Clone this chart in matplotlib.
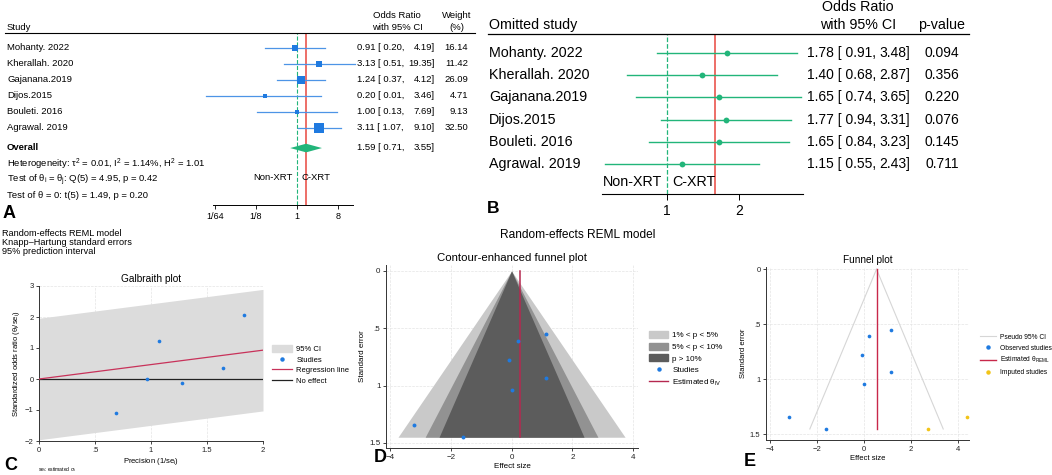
import matplotlib
matplotlib.use("Agg")
import matplotlib.pyplot as plt
from matplotlib.lines import Line2D
from matplotlib.patches import Patch
import numpy as np

plt.rcParams['font.family'] = ['Liberation Sans', 'DejaVu Sans']
plt.rcParams['mathtext.fontset'] = 'custom'
plt.rcParams['mathtext.rm'] = 'Liberation Sans'
plt.rcParams['mathtext.it'] = 'Liberation Sans:italic'
plt.rcParams['mathtext.bf'] = 'Liberation Sans:bold'

# ---------------- data ----------------
studies = ["Mohanty. 2022", "Kherallah. 2020", "Gajanana.2019",
           "Dijos.2015", "Bouleti. 2016", "Agrawal. 2019"]
or_est = [0.91, 3.13, 1.24, 0.20, 1.00, 3.11]
or_lo = [0.20, 0.51, 0.37, 0.01, 0.13, 1.07]
or_hi = [4.19, 19.35, 4.12, 3.46, 7.69, 9.10]
weights = [16.14, 11.42, 26.09, 4.71, 9.13, 32.50]
overall = (1.59, 0.71, 3.55)

loo_est = [1.78, 1.40, 1.65, 1.77, 1.65, 1.15]
loo_lo = [0.91, 0.68, 0.74, 0.94, 0.84, 0.55]
loo_hi = [3.48, 2.87, 3.65, 3.31, 3.23, 2.43]
loo_p = ["0.094", "0.356", "0.220", "0.076", "0.145", "0.711"]

# galbraith
gal_prec = [0.69, 0.96, 1.07, 1.28, 1.64, 1.83]
gal_z = [-1.10, 0.00, 1.22, -0.12, 0.35, 2.07]
gal_slope = 0.465

# funnel (log odds ratio, standard error)
fun_eff = [1.14, 0.22, -0.09, 1.14, 0.00, -3.22, -1.61]
fun_se = [0.55, 0.61, 0.78, 0.93, 1.04, 1.34, 1.45]
theta_iv = 0.27
theta_reml = 0.53
imp_eff = [2.73, 4.37]
imp_se = [1.45, 1.34]
se_max = 1.45

W, H = 1052, 475
fig = plt.figure(figsize=(W / 100, H / 100), dpi=100)


def rect(x0, y0, x1, y1):
    return [x0 / W, 1 - y1 / H, (x1 - x0) / W, (y1 - y0) / H]


def ft(x, y, s, **kw):
    kw.setdefault('va', 'center')
    fig.text(x / W, 1 - y / H, s, **kw)


BLUE = '#1f7ae0'
GREEN = '#22b57a'
RED = '#e8463f'

# ---------------- panel A: forest plot ----------------
axA = fig.add_axes(rect(213, 33, 353, 205))
axA.set_xscale('log', base=2)
axA.set_xlim(2 ** -6.146, 2 ** 4.10)
axA.set_ylim(9.81, -0.94)
for s in ['top', 'right', 'left']:
    axA.spines[s].set_visible(False)
axA.spines['bottom'].set_linewidth(0.7)
axA.set_yticks([])
axA.set_xticks([1 / 64, 1 / 8, 1, 8])
axA.set_xticklabels(['1/64', '1/8', '1', '8'], fontsize=6.5)
axA.xaxis.set_minor_locator(matplotlib.ticker.NullLocator())
axA.tick_params(axis='x', length=3, width=0.6, pad=2)
axA.axvline(1, color=GREEN, ls='--', lw=0.8, zorder=1)
axA.axvline(overall[0], color=RED, lw=1.1, zorder=1)
for i in range(len(studies)):
    axA.plot([or_lo[i], or_hi[i]], [i, i], color='#4d94e6', lw=0.9, clip_on=False, zorder=2)
    axA.plot(or_est[i], i, 's', color=BLUE, ms=1.14 * np.sqrt(weights[i]), mew=0, zorder=3)
oy = 6.25
axA.fill([overall[1], overall[0], overall[2], overall[0]],
         [oy, oy - 0.27, oy, oy + 0.27], color=GREEN, lw=0, zorder=3)

fa = 6.8
ft(7, 27, "Study", fontsize=fa)
ft(397, 15, "Odds Ratio", fontsize=fa, ha='center')
ft(397, 27, "with 95% CI", fontsize=fa, ha='center')
ft(457, 15, "Weight", fontsize=fa, ha='center')
ft(457, 27, "(%)", fontsize=fa, ha='center')
fig.add_artist(Line2D([5 / W, 475 / W], [1 - 33 / H, 1 - 33 / H], color='k', lw=0.8))
for i in range(len(studies)):
    y = 48 + 16 * i
    ft(7, y, studies[i], fontsize=fa)
    ft(357, y, f"{or_est[i]:.2f} [ {or_lo[i]:.2f},", fontsize=fa)
    ft(435, y, f"{or_hi[i]:.2f}]", fontsize=fa, ha='right')
    ft(468, y, f"{weights[i]:.2f}", fontsize=fa, ha='right')
ft(7, 148, "Overall", fontsize=fa, fontweight='bold')
ft(357, 148, f"{overall[0]:.2f} [ {overall[1]:.2f},", fontsize=fa)
ft(435, 148, f"{overall[2]:.2f}]", fontsize=fa, ha='right')
ft(7, 164, r"Heterogeneity: τ$^2$ = 0.01, I$^2$ = 1.14%, H$^2$ = 1.01", fontsize=fa)
ft(7, 180, r"Test of θ$_\mathrm{i}$ = θ$_\mathrm{j}$: Q(5) = 4.95, p = 0.42", fontsize=fa)
ft(7, 196, "Test of θ = 0: t(5) = 1.49, p = 0.20", fontsize=fa)
ft(293, 178, "Non-XRT", fontsize=fa, ha='right')
ft(302, 178, "C-XRT", fontsize=fa)
ft(3, 213, "A", fontsize=13, fontweight='bold')

# ---------------- panel B: leave-one-out ----------------
axB = fig.add_axes(rect(602, 34, 803, 194))
axB.set_xscale('log', base=2)
axB.set_xlim(2 ** -0.903, 2 ** 1.889)
axB.set_ylim(6.35, -0.856)
for s in ['top', 'right', 'left']:
    axB.spines[s].set_visible(False)
axB.spines['bottom'].set_linewidth(0.8)
axB.set_yticks([])
axB.set_xticks([1, 2])
axB.set_xticklabels(['1', '2'], fontsize=10)
axB.xaxis.set_minor_locator(matplotlib.ticker.NullLocator())
axB.tick_params(axis='x', length=4, width=0.7, pad=3)
axB.axvline(1, color=GREEN, ls='--', lw=0.9, zorder=1)
axB.axvline(overall[0], color=RED, lw=1.1, zorder=1)
for i in range(len(studies)):
    axB.plot([loo_lo[i], loo_hi[i]], [i, i], color=GREEN, lw=1.0, clip_on=False, zorder=2)
    axB.plot(loo_est[i], i, 'o', color=GREEN, ms=4.2, mew=0, zorder=3)

fb = 10.3
fbn = 10
ft(489, 25, "Omitted study", fontsize=fb)
ft(858, 7, "Odds Ratio", fontsize=fb, ha='center')
ft(858, 25, "with 95% CI", fontsize=fb, ha='center')
ft(942, 25, "p-value", fontsize=fb, ha='center')
fig.add_artist(Line2D([488 / W, 969 / W], [1 - 34 / H, 1 - 34 / H], color='k', lw=0.9))
for i in range(len(studies)):
    y = 53 + 22.2 * i
    ft(489, y, studies[i], fontsize=fb)
    ft(807, y, f"{loo_est[i]:.2f} [ {loo_lo[i]:.2f},", fontsize=fbn)
    ft(910, y, f"{loo_hi[i]:.2f}]", fontsize=fbn, ha='right')
    ft(942, y, loo_p[i], fontsize=fbn, ha='center')
ft(662, 182, "Non-XRT", fontsize=fb, ha='right')
ft(672, 182, "C-XRT", fontsize=fb)
ft(487, 208, "B", fontsize=12.5, fontweight='bold')


def stata_axes(ax, fs):
    for s in ['top', 'right']:
        ax.spines[s].set_visible(False)
    for s in ['left', 'bottom']:
        ax.spines[s].set_linewidth(0.7)
        ax.spines[s].set_color('#333333')
    ax.tick_params(length=2.5, width=0.6, labelsize=fs, pad=1.5, colors='#222222')
    ax.grid(True, color='#e4e4e4', ls='--', lw=0.5)
    ax.set_axisbelow(True)


def fmt(v):
    s = f"{v:g}"
    return s[1:] if s.startswith('0.') else s


# ---------------- panel C: galbraith ----------------
ft(2, 233, "Random-effects REML model", fontsize=6.6)
ft(2, 243, "Knapp–Hartung standard errors", fontsize=6.6)
ft(2, 252, "95% prediction interval", fontsize=6.6)

axC = fig.add_axes(rect(39, 286, 263, 441))
stata_axes(axC, 5.5)
axC.set_xlim(0, 2)
axC.set_ylim(-2, 3)
xs = np.array([0, 2])
axC.fill_between(xs, gal_slope * xs - 1.96, gal_slope * xs + 1.96, color='#dcdcdc', lw=0, zorder=1)
axC.plot(xs, gal_slope * xs, color='#c8325a', lw=0.9, zorder=3)
axC.axhline(0, color='#222222', lw=0.9, zorder=2)
axC.scatter(gal_prec, gal_z, s=7, color=BLUE, zorder=4, lw=0)
axC.set_xticks([0, 0.5, 1, 1.5, 2])
axC.set_xticklabels([fmt(v) for v in [0, 0.5, 1, 1.5, 2]])
axC.set_yticks([-2, -1, 0, 1, 2, 3])
axC.set_title("Galbraith plot", fontsize=7.3, pad=3)
axC.set_xlabel(r"Precision (1/se$_\mathrm{i}$)", fontsize=5.5, labelpad=2)
axC.set_ylabel(r"Standardized odds ratio (θ$_\mathrm{i}$/se$_\mathrm{i}$)", fontsize=5.5, labelpad=2)
hC = [Patch(color='#dcdcdc'),
      Line2D([], [], ls='', marker='o', ms=2.2, color=BLUE),
      Line2D([], [], color='#c8325a', lw=0.9),
      Line2D([], [], color='#222222', lw=0.9)]
axC.legend(hC, ["95% CI", "Studies", "Regression line", "No effect"],
           loc='upper left', bbox_to_anchor=(268 / W, 1 - 341 / H), bbox_transform=fig.transFigure,
           frameon=False, fontsize=5.5, borderpad=0, handlelength=2.6, handleheight=1.0,
           handletextpad=0.6, labelspacing=0.35)
ft(4, 465, "C", fontsize=13, fontweight='bold')
ft(38, 470, r"se$_\mathrm{i}$: estimated σ$_\mathrm{i}$", fontsize=3.6)

# ---------------- panel D: contour-enhanced funnel ----------------
ft(578, 235, "Random-effects REML model", fontsize=8.6, ha='center')
axD = fig.add_axes(rect(386, 265, 638, 448))
stata_axes(axD, 5.8)
axD.set_xlim(-4.13, 4.16)
axD.set_ylim(1.544, -0.052)
se_line = np.array([0, se_max])
for z, c in [(2.576, '#c9c9c9'), (1.96, '#929292'), (1.645, '#5c5c5c')]:
    axD.fill_betweenx(se_line, -z * se_line, z * se_line, color=c, lw=0, zorder=1)
axD.plot([theta_iv, theta_iv], [0, se_max], color='#b5284f', lw=1.1, zorder=3)
axD.scatter(fun_eff, fun_se, s=8, color=BLUE, zorder=4, lw=0)
axD.set_xticks([-4, -2, 0, 2, 4])
axD.set_yticks([0, 0.5, 1, 1.5])
axD.set_yticklabels([fmt(v) for v in [0, 0.5, 1, 1.5]])
axD.set_title("Contour-enhanced funnel plot", fontsize=8.2, pad=3)
axD.set_xlabel("Effect size", fontsize=5.8, labelpad=2)
axD.set_ylabel("Standard error", fontsize=5.8, labelpad=2)
hD = [Patch(color='#c9c9c9'), Patch(color='#929292'), Patch(color='#5c5c5c'),
      Line2D([], [], ls='', marker='o', ms=2.2, color=BLUE),
      Line2D([], [], color='#b5284f', lw=1.0)]
axD.legend(hD, ["1% < p < 5%", "5% < p < 10%", "p > 10%", "Studies", r"Estimated θ$_\mathrm{IV}$"],
           loc='upper left', bbox_to_anchor=(645 / W, 1 - 327 / H), bbox_transform=fig.transFigure,
           frameon=False, fontsize=5.8, borderpad=0, handlelength=2.4, handleheight=1.0,
           handletextpad=0.5, labelspacing=0.4)
ft(374, 458, "D", fontsize=13, fontweight='bold')

# ---------------- panel E: funnel with trim-and-fill ----------------
axE = fig.add_axes(rect(766, 267, 969, 440))
stata_axes(axE, 5.5)
axE.set_xlim(-4.18, 4.47)
axE.set_ylim(1.55, -0.02)
axE.plot(theta_reml - 1.96 * se_line, se_line, color='#d6d6d6', lw=0.8, zorder=1)
axE.plot(theta_reml + 1.96 * se_line, se_line, color='#d6d6d6', lw=0.8, zorder=1)
axE.plot([theta_reml, theta_reml], [0, se_max], color='#c8284a', lw=1.0, zorder=2)
axE.scatter(fun_eff, fun_se, s=7, color=BLUE, zorder=4, lw=0)
axE.scatter(imp_eff, imp_se, s=7, color='#f2c417', zorder=4, lw=0)
axE.set_xticks([-4, -2, 0, 2, 4])
axE.set_yticks([0, 0.5, 1, 1.5])
axE.set_yticklabels([fmt(v) for v in [0, 0.5, 1, 1.5]])
axE.set_title("Funnel plot", fontsize=7.2, pad=3)
axE.set_xlabel("Effect size", fontsize=5.5, labelpad=2)
axE.set_ylabel("Standard error", fontsize=5.5, labelpad=2)
hE = [Line2D([], [], color='#d6d6d6', lw=0.8),
      Line2D([], [], ls='', marker='o', ms=2.2, color=BLUE),
      Line2D([], [], color='#c8284a', lw=1.0),
      Line2D([], [], ls='', marker='o', ms=2.2, color='#f2c417')]
axE.legend(hE, ["Pseudo 95% CI", "Observed studies", r"Estimated θ$_\mathrm{REML}$", "Imputed studies"],
           loc='upper left', bbox_to_anchor=(977 / W, 1 - 330 / H), bbox_transform=fig.transFigure,
           frameon=False, fontsize=4.8, borderpad=0, handlelength=2.4, handleheight=1.0,
           handletextpad=0.5, labelspacing=0.55)
ft(744, 462, "E", fontsize=13, fontweight='bold')

fig.savefig("out.png", dpi=100)
